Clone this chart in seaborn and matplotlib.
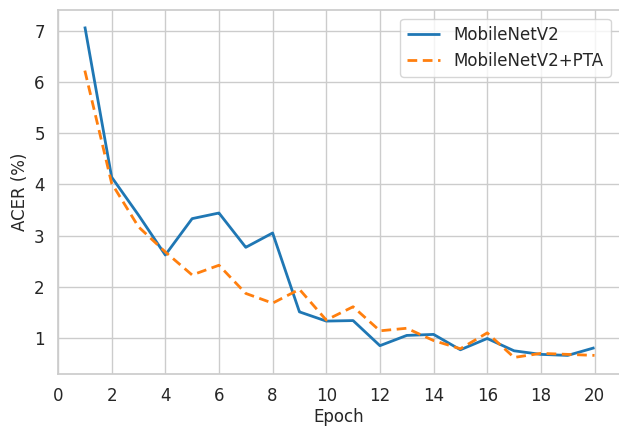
import numpy as np
import pandas as pd
import matplotlib
matplotlib.use("Agg")
import matplotlib.pyplot as plt
import seaborn as sns

# ACER per epoch
epochs = list(range(1, 21))
acer_base = [7.08, 4.14, 3.40, 2.62, 3.33, 3.44, 2.77, 3.05, 1.51, 1.33,
             1.34, 0.85, 1.05, 1.07, 0.77, 0.99, 0.75, 0.68, 0.66, 0.81]
acer_pta = [6.22, 4.02, 3.17, 2.68, 2.23, 2.42, 1.87, 1.68, 1.95, 1.35,
            1.61, 1.14, 1.19, 0.95, 0.79, 1.10, 0.62, 0.70, 0.68, 0.66]
labels = ["MobileNetV2", "MobileNetV2+PTA"]

df = pd.DataFrame({
    "Epoch": epochs * 2,
    "ACER": acer_base + acer_pta,
    "Model": [labels[0]] * len(epochs) + [labels[1]] * len(epochs),
})

sns.set_theme(style="whitegrid", palette="tab10",
              rc={"xtick.labelsize": 12, "ytick.labelsize": 12,
                  "axes.labelsize": 12, "legend.fontsize": 12})

fig = plt.figure(figsize=(6.19, 4.26), dpi=100)
# axes placed like the reference (right spine falls just off the canvas)
ax = fig.add_axes([58 / 619, 52 / 426, 562 / 619, 364 / 426])
sns.lineplot(data=df, x="Epoch", y="ACER", hue="Model", style="Model",
             dashes=[(1, 0), (3.5, 2)], linewidth=2, ax=ax)

ax.set_xticks(range(0, 21, 2))
ax.set_xlabel("Epoch", labelpad=2)
ax.set_ylabel("ACER (%)", labelpad=4)
ax.legend(title=None, loc="upper right", bbox_to_anchor=(0.998, 0.998))

plt.savefig("out.png")
